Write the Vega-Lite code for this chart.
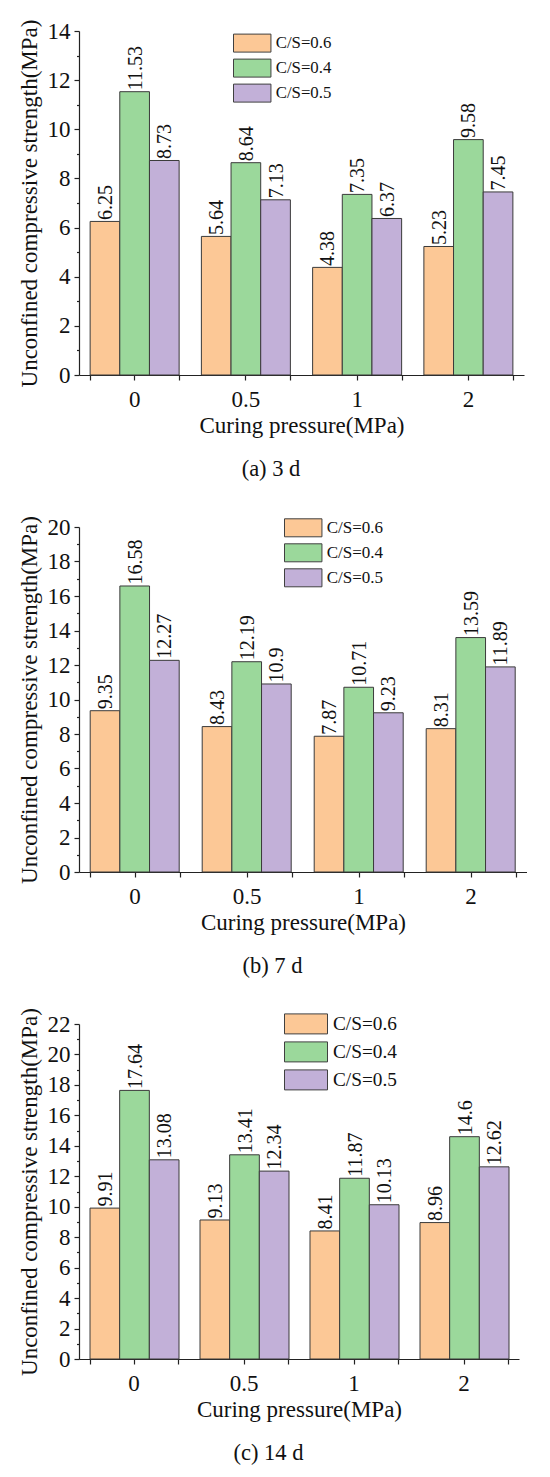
{
  "$schema": "https://vega.github.io/schema/vega-lite/v6.json",
  "background": "white",
  "padding": {"left": 18, "top": 19, "right": 0, "bottom": 0},
  "config": {
    "view": {"stroke": null},
    "font": "Liberation Serif",
    "text": {"font": "Liberation Serif"},
    "axis": {
      "domainColor": "#222", "tickColor": "#222", "labelColor": "#111", "titleColor": "#111",
      "labelFont": "Liberation Serif", "titleFont": "Liberation Serif",
      "labelFontSize": 23, "titleFontSize": 23, "titleFontWeight": "normal",
      "grid": false, "domainWidth": 1.2, "tickWidth": 1.2
    },
    "legend": {"padding": 0, "labelFont": "Liberation Serif", "labelColor": "#111", "title": null},
    "title": {"font": "Liberation Serif", "fontSize": 22.5, "fontWeight": "normal", "color": "#111", "orient": "bottom", "anchor": "middle", "frame": "bounds", "offset": 21}
  },
  "datasets": {
    "a": [
      {"pressure": "0", "series": "C/S=0.6", "value": 6.25},
      {"pressure": "0", "series": "C/S=0.4", "value": 11.53},
      {"pressure": "0", "series": "C/S=0.5", "value": 8.73},
      {"pressure": "0.5", "series": "C/S=0.6", "value": 5.64},
      {"pressure": "0.5", "series": "C/S=0.4", "value": 8.64},
      {"pressure": "0.5", "series": "C/S=0.5", "value": 7.13},
      {"pressure": "1", "series": "C/S=0.6", "value": 4.38},
      {"pressure": "1", "series": "C/S=0.4", "value": 7.35},
      {"pressure": "1", "series": "C/S=0.5", "value": 6.37},
      {"pressure": "2", "series": "C/S=0.6", "value": 5.23},
      {"pressure": "2", "series": "C/S=0.4", "value": 9.58},
      {"pressure": "2", "series": "C/S=0.5", "value": 7.45}
    ],
    "b": [
      {"pressure": "0", "series": "C/S=0.6", "value": 9.35},
      {"pressure": "0", "series": "C/S=0.4", "value": 16.58},
      {"pressure": "0", "series": "C/S=0.5", "value": 12.27},
      {"pressure": "0.5", "series": "C/S=0.6", "value": 8.43},
      {"pressure": "0.5", "series": "C/S=0.4", "value": 12.19},
      {"pressure": "0.5", "series": "C/S=0.5", "value": 10.9},
      {"pressure": "1", "series": "C/S=0.6", "value": 7.87},
      {"pressure": "1", "series": "C/S=0.4", "value": 10.71},
      {"pressure": "1", "series": "C/S=0.5", "value": 9.23},
      {"pressure": "2", "series": "C/S=0.6", "value": 8.31},
      {"pressure": "2", "series": "C/S=0.4", "value": 13.59},
      {"pressure": "2", "series": "C/S=0.5", "value": 11.89}
    ],
    "c": [
      {"pressure": "0", "series": "C/S=0.6", "value": 9.91},
      {"pressure": "0", "series": "C/S=0.4", "value": 17.64},
      {"pressure": "0", "series": "C/S=0.5", "value": 13.08},
      {"pressure": "0.5", "series": "C/S=0.6", "value": 9.13},
      {"pressure": "0.5", "series": "C/S=0.4", "value": 13.41},
      {"pressure": "0.5", "series": "C/S=0.5", "value": 12.34},
      {"pressure": "1", "series": "C/S=0.6", "value": 8.41},
      {"pressure": "1", "series": "C/S=0.4", "value": 11.87},
      {"pressure": "1", "series": "C/S=0.5", "value": 10.13},
      {"pressure": "2", "series": "C/S=0.6", "value": 8.96},
      {"pressure": "2", "series": "C/S=0.4", "value": 14.6},
      {"pressure": "2", "series": "C/S=0.5", "value": 12.62}
    ]
  },
  "spacing": 152,
  "bounds": "flush",
  "resolve": {"scale": {"color": "independent"}, "legend": {"color": "independent"}},
  "vconcat": [
    {
      "width": 445, "height": 344,
      "data": {"name": "a"},
      "title": {"text": "(a) 3 d"},
      "encoding": {
        "x": {"field": "pressure", "type": "nominal", "sort": ["0", "0.5", "1", "2"],
              "scale": {"paddingInner": 0.2, "paddingOuter": 0.1},
              "axis": {"orient": "bottom", "labelAngle": 0, "tickSize": 5, "labelPadding": 8, "title": "Curing pressure(MPa)", "titlePadding": 3}},
        "xOffset": {"field": "series", "type": "nominal", "sort": ["C/S=0.6", "C/S=0.4", "C/S=0.5"], "scale": {"paddingInner": 0, "paddingOuter": 0}},
        "y": {"field": "value", "type": "quantitative", "scale": {"domain": [0, 14], "nice": false},
              "axis": {"values": [0,1,2,3,4,5,6,7,8,9,10,11,12,13,14], "labelExpr": "datum.value % 2 === 0 ? datum.label : ''", "labelOverlap": false,
                       "tickSize": {"condition": {"test": "datum.value % 2 === 0", "value": 5}, "value": 2.5},
                       "labelPadding": 4, "title": "Unconfined compressive strength(MPa)", "titlePadding": 6}}
      },
      "layer": [
        {"mark": {"type": "bar", "stroke": "#3a3a3a", "strokeWidth": 1},
         "encoding": {"color": {"field": "series", "type": "nominal",
           "scale": {"domain": ["C/S=0.6", "C/S=0.4", "C/S=0.5"], "range": ["#FCC896", "#9BD89B", "#C2B0D8"]},
           "legend": {"orient": "none", "legendX": 154, "legendY": 2.6, "symbolType": "M-1,-1L3.16,-1L3.16,1L-1,1Z", "symbolSize": 324,
                      "symbolStrokeColor": "#404040", "symbolStrokeWidth": 1, "symbolOpacity": 1, "labelFontSize": 16.8, "labelOffset": 23.7, "rowPadding": 2}}}},
        {"mark": {"type": "text", "angle": 270, "align": "left", "baseline": "middle", "dx": 1.5, "dy": 1, "fontSize": 20, "font": "Liberation Serif", "color": "#111"},
         "encoding": {
           "text": {"field": "value", "type": "quantitative", "format": ".2~f"},
           "x": {"field": "pressure", "type": "nominal", "sort": ["0", "0.5", "1", "2"],
                 "axis": {"orient": "bottom", "tickBand": "extent", "labels": false, "domain": false, "title": null, "tickSize": 5}}}}
      ],
      "resolve": {"axis": {"x": "independent"}}
    },
    {
      "width": 448, "height": 345,
      "data": {"name": "b"},
      "title": {"text": "(b) 7 d"},
      "encoding": {
        "x": {"field": "pressure", "type": "nominal", "sort": ["0", "0.5", "1", "2"],
              "scale": {"paddingInner": 0.2, "paddingOuter": 0.1},
              "axis": {"orient": "bottom", "labelAngle": 0, "tickSize": 5, "labelPadding": 8, "title": "Curing pressure(MPa)", "titlePadding": 3}},
        "xOffset": {"field": "series", "type": "nominal", "sort": ["C/S=0.6", "C/S=0.4", "C/S=0.5"], "scale": {"paddingInner": 0, "paddingOuter": 0}},
        "y": {"field": "value", "type": "quantitative", "scale": {"domain": [0, 20], "nice": false},
              "axis": {"values": [0,1,2,3,4,5,6,7,8,9,10,11,12,13,14,15,16,17,18,19,20], "labelExpr": "datum.value % 2 === 0 ? datum.label : ''", "labelOverlap": false,
                       "tickSize": {"condition": {"test": "datum.value % 2 === 0", "value": 5}, "value": 2.5},
                       "labelPadding": 4, "title": "Unconfined compressive strength(MPa)", "titlePadding": 6}}
      },
      "layer": [
        {"mark": {"type": "bar", "stroke": "#3a3a3a", "strokeWidth": 1},
         "encoding": {"color": {"field": "series", "type": "nominal",
           "scale": {"domain": ["C/S=0.6", "C/S=0.4", "C/S=0.5"], "range": ["#FCC896", "#9BD89B", "#C2B0D8"]},
           "legend": {"orient": "none", "legendX": 205, "legendY": -8.7, "symbolType": "M-1,-1L3.16,-1L3.16,1L-1,1Z", "symbolSize": 324,
                      "symbolStrokeColor": "#404040", "symbolStrokeWidth": 1, "symbolOpacity": 1, "labelFontSize": 17, "labelOffset": 23.7, "rowPadding": 2}}}},
        {"mark": {"type": "text", "angle": 270, "align": "left", "baseline": "middle", "dx": 1.5, "dy": 1, "fontSize": 20, "font": "Liberation Serif", "color": "#111"},
         "encoding": {
           "text": {"field": "value", "type": "quantitative", "format": ".2~f"},
           "x": {"field": "pressure", "type": "nominal", "sort": ["0", "0.5", "1", "2"],
                 "axis": {"orient": "bottom", "tickBand": "extent", "labels": false, "domain": false, "title": null, "tickSize": 5}}}}
      ],
      "resolve": {"axis": {"x": "independent"}}
    },
    {
      "width": 440, "height": 335,
      "data": {"name": "c"},
      "title": {"text": "(c) 14 d"},
      "encoding": {
        "x": {"field": "pressure", "type": "nominal", "sort": ["0", "0.5", "1", "2"],
              "scale": {"paddingInner": 0.2, "paddingOuter": 0.1},
              "axis": {"orient": "bottom", "labelAngle": 0, "tickSize": 5, "labelPadding": 8, "title": "Curing pressure(MPa)", "titlePadding": 3}},
        "xOffset": {"field": "series", "type": "nominal", "sort": ["C/S=0.6", "C/S=0.4", "C/S=0.5"], "scale": {"paddingInner": 0, "paddingOuter": 0}},
        "y": {"field": "value", "type": "quantitative", "scale": {"domain": [0, 22], "nice": false},
              "axis": {"values": [0,1,2,3,4,5,6,7,8,9,10,11,12,13,14,15,16,17,18,19,20,21,22], "labelExpr": "datum.value % 2 === 0 ? datum.label : ''", "labelOverlap": false,
                       "tickSize": {"condition": {"test": "datum.value % 2 === 0", "value": 5}, "value": 2.5},
                       "labelPadding": 4, "title": "Unconfined compressive strength(MPa)", "titlePadding": 6}}
      },
      "layer": [
        {"mark": {"type": "bar", "stroke": "#3a3a3a", "strokeWidth": 1},
         "encoding": {"color": {"field": "series", "type": "nominal",
           "scale": {"domain": ["C/S=0.6", "C/S=0.4", "C/S=0.5"], "range": ["#FCC896", "#9BD89B", "#C2B0D8"]},
           "legend": {"orient": "none", "legendX": 205, "legendY": -10.6, "symbolType": "M-1,-1L3.3,-1L3.3,1L-1,1Z", "symbolSize": 400,
                      "symbolStrokeColor": "#404040", "symbolStrokeWidth": 1, "symbolOpacity": 1, "labelFontSize": 19.3, "labelOffset": 28, "rowPadding": 3}}}},
        {"mark": {"type": "text", "angle": 270, "align": "left", "baseline": "middle", "dx": 1.5, "dy": 1, "fontSize": 20, "font": "Liberation Serif", "color": "#111"},
         "encoding": {
           "text": {"field": "value", "type": "quantitative", "format": ".2~f"},
           "x": {"field": "pressure", "type": "nominal", "sort": ["0", "0.5", "1", "2"],
                 "axis": {"orient": "bottom", "tickBand": "extent", "labels": false, "domain": false, "title": null, "tickSize": 5}}}}
      ],
      "resolve": {"axis": {"x": "independent"}}
    }
  ]
}
